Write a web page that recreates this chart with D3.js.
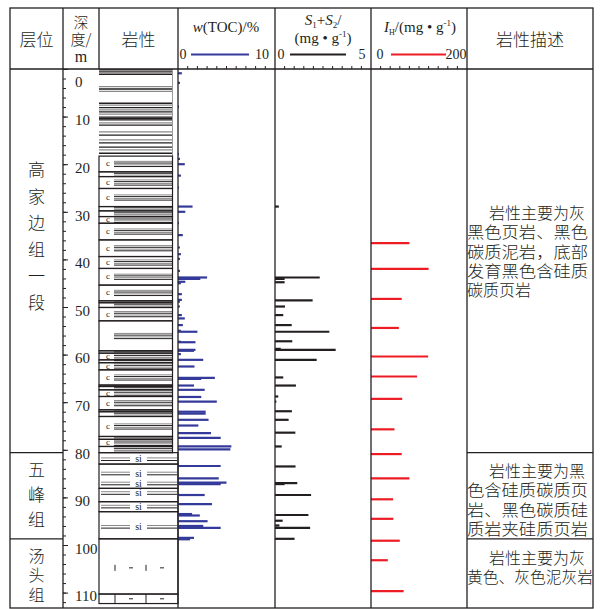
<!DOCTYPE html>
<html>
<head>
<meta charset="utf-8">
<script src="https://cdn.jsdelivr.net/npm/d3@7"></script>
<style>
  body { margin: 0; background: #fff; }
  text { fill: #231f20; }
</style>
</head>
<body>
<div id="chart"></div>
<script>
// ---- data (depth in m) ----
const depthTicks = d3.range(0, 111, 10);
const formationNames = ["高家边组一段", "五峰组", "汤头组"];
const formationTops = [0, 80.6, 98.7];

const descLines = [
  ["岩性主要为灰", "黑色页岩、黑色", "碳质泥岩，底部", "发育黑色含硅质", "碳质页岩"],
  ["岩性主要为黑", "色含硅质碳质页", "岩、黑色碳质硅", "质岩夹硅质页岩"],
  ["岩性主要为灰", "黄色、灰色泥灰岩"]
];

// [depth, w(TOC) %]
const toc = [
  [0.9, 0.4], [2.9, 0.2], [7.9, 0.1], [17.9, 0.1], [18.9, 0.2], [20.0, 0.7], [22.4, 0.3],
  [24.9, 0.1], [28.9, 1.5], [30.0, 0.75], [32.4, 0.1], [34.9, 0.5], [37.5, 0.2], [38.9, 0.3],
  [39.9, 0.2], [42.4, 0.2], [43.8, 3.0], [44.1, 2.3], [44.7, 0.75], [45.0, 0.3], [47.3, 0.4],
  [48.5, 0.4], [48.9, 0.2], [49.9, 0.2], [51.7, 0.4], [52.4, 0.7], [53.8, 0.5], [55.0, 0.3],
  [55.2, 2.0], [57.3, 0.3], [57.4, 1.8], [59.0, 1.8], [59.2, 1.65], [59.9, 0.3], [61.1, 2.6],
  [62.5, 1.7], [64.9, 3.8], [65.1, 2.4], [66.5, 1.65], [67.4, 2.75], [68.9, 2.4], [69.9, 4.0],
  [72.0, 2.85], [72.4, 2.85], [73.7, 3.15], [74.9, 2.1], [76.5, 3.4], [77.5, 4.4], [79.3, 5.5],
  [79.9, 5.4], [83.4, 4.4], [86.0, 4.2], [86.9, 5.0], [87.2, 4.4], [89.5, 2.75], [91.4, 3.5],
  [93.5, 1.45], [93.8, 2.25], [95.0, 3.05], [96.0, 2.6], [96.4, 4.4], [98.5, 1.65], [98.8, 1.25]
];

// [depth, S1+S2 mg/g]
const s1s2 = [
  [28.9, 0.2], [43.8, 2.33], [44.1, 0.5], [44.8, 0.5], [48.6, 1.96], [49.9, 0.52], [51.7, 0.43],
  [53.8, 0.87], [55.2, 2.83], [57.2, 0.9], [58.8, 0.3], [59.0, 3.16], [61.1, 2.17], [64.8, 0.43],
  [66.5, 1.09], [68.8, 0.17], [69.9, 0.07], [71.9, 0.88], [73.7, 0.71], [76.4, 1.06], [79.3, 0.35],
  [83.5, 1.07], [87.0, 1.16], [87.2, 0.5], [89.5, 1.88], [93.7, 1.74], [94.9, 0.4], [95.9, 0.23],
  [96.4, 1.83], [98.7, 1.02]
];

// [depth, IH mg/g]
const ih = [
  [36.6, 80], [42.0, 120], [48.3, 64], [54.4, 58], [60.4, 119], [64.6, 96], [69.3, 65],
  [75.7, 49], [80.9, 64], [86.0, 80], [90.4, 46], [94.5, 46.5], [99.1, 60], [103.2, 35], [109.7, 68]
];

// lithology
const shaleLines = [
  [0.2, "k"], [0.6, "k"], [1.1, "k"], [3.7, "g"], [4.2, "k"], [4.7, "g"],
  [7.2, "k"], [7.6, "g"], [8.1, "k"], [8.6, "g"], [9.0, "k"], [9.5, "g"], [10.1, "k"],
  [10.4, "k"], [10.7, "k"], [11.3, "g"], [11.8, "k"], [13.2, "g"], [13.9, "k"], [14.9, "g"],
  [15.5, "k"], [16.4, "k"], [17.0, "g"], [17.7, "k"]
];
const cBreaks = [18.3, 21.6, 22.6, 25.1, 28.9, 29.8, 31.0, 32.4, 35.9, 39.4, 41.9, 45.4, 48.7,
  49.1, 50.1, 52.9, 59.2, 59.7, 61.1, 61.7, 63.2, 66.4, 66.7, 67.4, 68.8, 71.6, 72.0, 73.0,
  77.2, 77.8, 79.3, 80.6];
const plainLayer = [52.9, 59.2, 56.1];
const siBreaks = [80.6, 83.0, 88.1, 90.9, 93.0, 98.7];
const siLabels = [82.0, 85.0, 87.1, 89.1, 91.95, 96.2];
const marlSymbolDepth = 104.8;
const marlRow = [110.3, 112.3];

// ---- layout ----
const W = 601, H = 609;
const colX = [10, 63, 99, 178, 275, 371, 467, 593];
const topY = 8, headTop = 69, bottomY = 608;
const ink = "#231f20";

const svg = d3.select("#chart").append("svg")
  .attr("width", W).attr("height", H);

const y = d3.scaleLinear().domain([0, 110]).range([headTop, 592.6]);
const xToc = d3.scaleLinear().domain([0, 10]).range([colX[3], colX[4]]);
const xS = d3.scaleLinear().domain([0, 5]).range([colX[4], colX[5]]);
const xIh = d3.scaleLinear().domain([0, 200]).range([colX[5], colX[6]]);

const cjk = "'Noto Sans CJK SC', sans-serif";
const serif = "'Liberation Serif', 'DejaVu Serif', serif";

// ---- lithology column ----
const lith = svg.append("g");
const lx0 = colX[2], lx1 = 172.5, lx2 = colX[3];

shaleLines.forEach(([d, c]) => {
  lith.append("line")
    .attr("x1", lx0).attr("x2", lx1).attr("y1", y(d)).attr("y2", y(d))
    .attr("stroke", c === "k" ? ink : "#8a8a8a").attr("stroke-width", 1.3);
});
lith.append("line").attr("x1", lx1).attr("x2", lx1)
  .attr("y1", headTop).attr("y2", y(cBreaks[0])).attr("stroke", "#9a9a9a").attr("stroke-width", 1);

const defs = svg.append("defs");
d3.pairs(cBreaks).forEach(([a, b], i) => {
  const g = lith.append("g");
  const id = "cclip" + i;
  defs.append("clipPath").attr("id", id).append("rect")
    .attr("x", lx0).attr("y", y(a)).attr("width", lx1 - lx0 + 1).attr("height", y(b) - y(a));
  const isPlain = a === plainLayer[0];
  const mid = isPlain ? y(plainLayer[2]) : (y(a) + y(b)) / 2;
  const inner = g.append("g").attr("clip-path", `url(#${id})`);
  [-2.6, -0.9, 0.9, 2.6].forEach((o, k) => {
    inner.append("line")
      .attr("x1", 114).attr("x2", lx1).attr("y1", mid + o).attr("y2", mid + o)
      .attr("stroke", k % 2 ? ink : "#8a8a8a").attr("stroke-width", 1);
  });
  if (!isPlain && y(b) - y(a) > 6.5) {
    g.append("text").attr("x", 106).attr("y", mid + 2.5)
      .attr("font-family", serif).attr("font-size", 9).text("c");
  }
  g.append("rect").attr("x", lx0).attr("y", y(a)).attr("width", lx1 - lx0).attr("height", y(b) - y(a))
    .attr("fill", "none").attr("stroke", ink).attr("stroke-width", 1.2);
});

d3.pairs(siBreaks).forEach(([a, b]) => {
  lith.append("rect").attr("x", lx0).attr("y", y(a)).attr("width", lx2 - lx0).attr("height", y(b) - y(a))
    .attr("fill", "none").attr("stroke", ink).attr("stroke-width", 1.2);
});
siLabels.forEach(d => {
  const yy = y(d);
  [[101, 130], [147, 177]].forEach(([x1, x2]) => {
    lith.append("line").attr("x1", x1).attr("x2", x2).attr("y1", yy - 1.4).attr("y2", yy - 1.4)
      .attr("stroke", "#8a8a8a").attr("stroke-width", 1);
    lith.append("line").attr("x1", x1).attr("x2", x2).attr("y1", yy + 1.2).attr("y2", yy + 1.2)
      .attr("stroke", ink).attr("stroke-width", 1);
  });
  lith.append("text").attr("x", 138.5).attr("y", yy + 3).attr("text-anchor", "middle")
    .attr("font-family", serif).attr("font-size", 10).text("si");
});

// marl (汤头组)
const marlTop = siBreaks[siBreaks.length - 1];
lith.append("rect").attr("x", lx0).attr("y", y(marlTop))
  .attr("width", lx2 - lx0).attr("height", y(marlRow[0]) - y(marlTop))
  .attr("fill", "none").attr("stroke", ink).attr("stroke-width", 1.2);
lith.append("rect").attr("x", lx0).attr("y", y(marlRow[0]))
  .attr("width", lx2 - lx0).attr("height", y(marlRow[1]) - y(marlRow[0]))
  .attr("fill", "none").attr("stroke", ink).attr("stroke-width", 1.2);
[115, 146].forEach(x => {
  lith.append("line").attr("x1", x).attr("x2", x)
    .attr("y1", y(marlSymbolDepth) - 3).attr("y2", y(marlSymbolDepth) + 3)
    .attr("stroke", ink).attr("stroke-width", 1);
  lith.append("line").attr("x1", x).attr("x2", x)
    .attr("y1", y(marlRow[0])).attr("y2", y(marlRow[1]))
    .attr("stroke", ink).attr("stroke-width", 1);
});
[131, 162].forEach(x => {
  [y(marlSymbolDepth), (y(marlRow[0]) + y(marlRow[1])) / 2].forEach(yy => {
    lith.append("line").attr("x1", x - 2).attr("x2", x + 2).attr("y1", yy).attr("y2", yy)
      .attr("stroke", ink).attr("stroke-width", 1);
  });
});

// ---- bars ----
function bars(data, xs, color) {
  svg.append("g").selectAll("line").data(data).enter().append("line")
    .attr("x1", xs(0)).attr("x2", d => xs(d[1]))
    .attr("y1", d => y(d[0])).attr("y2", d => y(d[0]))
    .attr("stroke", color).attr("stroke-width", 2.2);
}
bars(toc, xToc, "#343a9a");
bars(s1s2, xS, ink);
bars(ih, xIh, "#ed1c24");

// ---- table frame ----
const frame = svg.append("g").attr("stroke", ink).attr("stroke-width", 1.3);
frame.append("rect").attr("x", colX[0]).attr("y", topY)
  .attr("width", colX[7] - colX[0]).attr("height", bottomY - topY).attr("fill", "none");
frame.append("line").attr("x1", colX[0]).attr("x2", colX[7]).attr("y1", headTop).attr("y2", headTop);
colX.slice(1, -1).forEach((x, i) => {
  frame.append("line").attr("x1", x).attr("x2", x).attr("y1", topY)
    .attr("y2", i === 1 ? headTop : bottomY);
});
formationTops.slice(1).forEach(d => {
  frame.append("line").attr("x1", colX[0]).attr("x2", colX[1]).attr("y1", y(d)).attr("y2", y(d));
  frame.append("line").attr("x1", colX[6]).attr("x2", colX[7]).attr("y1", y(d)).attr("y2", y(d));
});

// header scale ticks
[[xToc, d3.range(1, 10)], [xS, d3.range(0.5, 5, 0.5)], [xIh, d3.range(20, 200, 20)]].forEach(([xs, vals]) => {
  svg.append("g").selectAll("line").data(vals).enter().append("line")
    .attr("x1", d => xs(d)).attr("x2", d => xs(d)).attr("y1", headTop).attr("y2", headTop - 3)
    .attr("stroke", ink).attr("stroke-width", 1);
});

// ---- depth axis ----
const minor = svg.append("g").attr("transform", `translate(${colX[1]},0)`)
  .call(d3.axisRight(y).tickValues(d3.range(0, 113, 2)).tickSize(3).tickFormat(""));
const major = svg.append("g").attr("transform", `translate(${colX[1]},0)`)
  .call(d3.axisRight(y).tickValues(depthTicks).tickSize(5).tickPadding(7));
[minor, major].forEach(g => {
  g.select(".domain").remove();
  g.selectAll("line").attr("stroke", ink).attr("stroke-width", 1);
});
major.selectAll("text").attr("font-family", serif).attr("font-size", 15).attr("fill", ink)
  .attr("dy", d => d === 0 ? "1.15em" : "0.55em");

// ---- header text ----
const head = svg.append("g");
function htext(x, yy, t, font, size, anchor) {
  return head.append("text").attr("x", x).attr("y", yy).attr("font-family", font)
    .attr("font-size", size).attr("text-anchor", anchor || "middle").text(t);
}
htext(36.5, 46, "层位", cjk, 17).attr("font-weight", 300);
const depthHead = htext(81, 28, "", cjk, 15).attr("font-weight", 300);
depthHead.append("tspan").attr("x", 81).text("深");
depthHead.append("tspan").attr("x", 81).attr("dy", 17).text("度/");
depthHead.append("tspan").attr("x", 81).attr("dy", 17).attr("font-family", serif)
  .attr("font-size", 16).attr("font-weight", 400).text("m");
htext(138.5, 46, "岩性", cjk, 17).attr("font-weight", 300);

const tocT = htext(226, 32, "", serif, 15);
tocT.append("tspan").attr("font-style", "italic").text("w");
tocT.append("tspan").text("(TOC)/%");

const sT = htext(323, 25, "", serif, 15);
sT.append("tspan").attr("font-style", "italic").text("S");
sT.append("tspan").attr("font-size", 9).attr("dy", 3).text("1");
sT.append("tspan").attr("dy", -3).text("+");
sT.append("tspan").attr("font-style", "italic").text("S");
sT.append("tspan").attr("font-size", 9).attr("dy", 3).text("2");
sT.append("tspan").attr("dy", -3).text("/");
const sT2 = htext(323, 43, "(mg • g", serif, 15);
sT2.append("tspan").attr("font-size", 9).attr("dy", -6).text("-1");
sT2.append("tspan").attr("dy", 6).text(")");

const ihT = htext(420, 32, "", serif, 15);
ihT.append("tspan").attr("font-style", "italic").text("I");
ihT.append("tspan").attr("font-size", 8).attr("dy", 3).text("H");
ihT.append("tspan").attr("dy", -3).text("/(mg • g");
ihT.append("tspan").attr("font-size", 9).attr("dy", -6).text("-1");
ihT.append("tspan").attr("dy", 6).text(")");

// legend lines
[[183, 191, 249, 262, "0", "10", "#343a9a"],
 [281, 290, 346, 362, "0", "5", ink],
 [380, 391, 446, 456, "0", "200", "#ed1c24"]].forEach(([t0, a, b, t1, l0, l1, c]) => {
  htext(t0, 59, l0, serif, 14);
  htext(t1, 59, l1, serif, 14);
  head.append("line").attr("x1", a).attr("x2", b).attr("y1", 54.5).attr("y2", 54.5)
    .attr("stroke", c).attr("stroke-width", 2);
});
htext(530, 46, "岩性描述", cjk, 17).attr("font-weight", 300);

// ---- formation names (vertical, one text each) ----
const fCenters = [236.5, 495, 575];
const fSteps = [26.6, 25, 19.5];
formationNames.forEach((name, i) => {
  const chars = Array.from(name);
  const t = svg.append("text").attr("text-anchor", "middle")
    .attr("font-family", cjk).attr("font-size", i === 2 ? 16 : 17).attr("font-weight", 300);
  chars.forEach((ch, k) => {
    const yy = fCenters[i] + (k - (chars.length - 1) / 2) * fSteps[i];
    t.append("tspan").attr("x", 36.5).attr("y", yy + 6).text(ch);
  });
});

// ---- descriptions (one text per paragraph, justified lines) ----
const descTop = [219, 477, 564];
const descRight = [588, 588, 593];
descLines.forEach((lines, i) => {
  const t = svg.append("text").attr("font-family", cjk).attr("font-size", 16).attr("font-weight", 300);
  lines.forEach((s, k) => {
    const x0 = k === 0 ? 489 : 467;
    const sp = t.append("tspan").attr("x", x0).attr("y", descTop[i] + k * 19.3).text(s);
    if (k > 0 && Array.from(s).length >= 7) {
      sp.attr("textLength", descRight[i] - x0).attr("lengthAdjust", "spacingAndGlyphs");
    }
  });
});
</script>
</body>
</html>
